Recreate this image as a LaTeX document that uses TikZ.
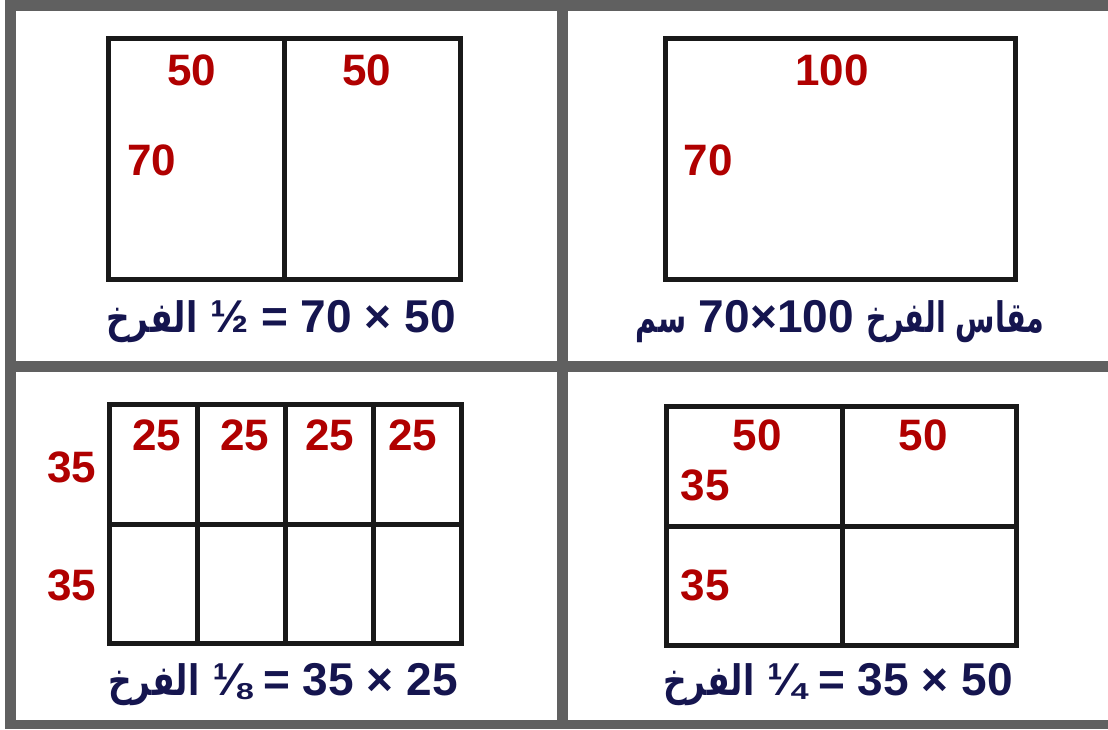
\documentclass[tikz,border=0pt]{standalone}
\usepackage{fontspec}
\setmainfont{Liberation Sans}
\newfontfamily\arabicfont[Script=Arabic,FakeStretch=0.78]{DejaVu Sans}
\newfontfamily\arabicnarrow[Script=Arabic,FakeStretch=0.68]{DejaVu Sans}
\TeXXeTstate=1
\definecolor{framegray}{HTML}{606060}
\definecolor{numred}{HTML}{B00000}
\definecolor{capnavy}{HTML}{15154F}
\newcommand{\ar}[1]{{\arabicfont\bfseries\fontsize{21}{21}\selectfont\beginR #1\endR}}
\newcommand{\arn}[1]{{\arabicnarrow\bfseries\fontsize{21}{21}\selectfont\beginR #1\endR}}
\begin{document}
\begin{tikzpicture}[x=0.5pt,y=-0.5pt,
  bar/.style={fill=framegray,draw=none},
  sheet/.style={draw=black!90,line width=2.5pt},
  num/.style={text=numred,font=\bfseries\fontsize{22}{22}\selectfont,inner sep=0pt},
  captext/.style={text=capnavy,font=\bfseries\fontsize{23}{23}\selectfont,inner sep=0pt}]
\useasboundingbox[fill=white] (0,0) rectangle (1108,729);
% frame
\fill[bar] (5,0) rectangle (1108,11);
\fill[bar] (5,0) rectangle (16,729);
\fill[bar] (5,720) rectangle (1108,729);
\fill[bar] (557,0) rectangle (568,729);
\fill[bar] (5,361) rectangle (1108,372);
% top-left: half sheet
\draw[sheet] (108,38) rectangle (460,279);
\draw[sheet] (284,38) -- (284,279);
\node[num] (tlA) at (192,70) {50};
\node[num] (tlB) at (367,70) {50};
\node[num] (tlC) at (152,160) {70};
\node[captext] (capTL) at (281,322) {\ar{الفرخ} ½ = 70 × 50};
% top-right: full sheet
\draw[sheet] (665,38) rectangle (1015,279);
\node[num] (trA) at (832,70) {100};
\node[num] (trB) at (708,160) {70};
\node[captext] (capTR) at (840,322) {\arn{سم} 70×100 \arn{مقاس الفرخ}};
% bottom-left: eighth sheet
\draw[sheet] (109,404) rectangle (461,643);
\draw[sheet] (197,404) -- (197,643);
\draw[sheet] (285,404) -- (285,643);
\draw[sheet] (373,404) -- (373,643);
\draw[sheet] (109,524) -- (461,524);
\node[num] (blA) at (157,435) {25};
\node[num] (blB) at (245,435) {25};
\node[num] (blC) at (330,435) {25};
\node[num] (blD) at (413,435) {25};
\node[num] (blE) at (72,467) {35};
\node[num] (blF) at (72,585) {35};
\node[captext] (capBL) at (283,685) {\ar{الفرخ} ⅛ = 35 × 25};
% bottom-right: quarter sheet
\draw[sheet] (666,406) rectangle (1016,645);
\draw[sheet] (842,406) -- (842,645);
\draw[sheet] (666,526) -- (1016,526);
\node[num] (brA) at (757,435) {50};
\node[num] (brB) at (923,435) {50};
\node[num] (brC) at (705,485) {35};
\node[num] (brD) at (705,585) {35};
\node[captext] (capBR) at (838,685) {\ar{الفرخ} ¼ = 35 × 50};
\end{tikzpicture}
\end{document}
